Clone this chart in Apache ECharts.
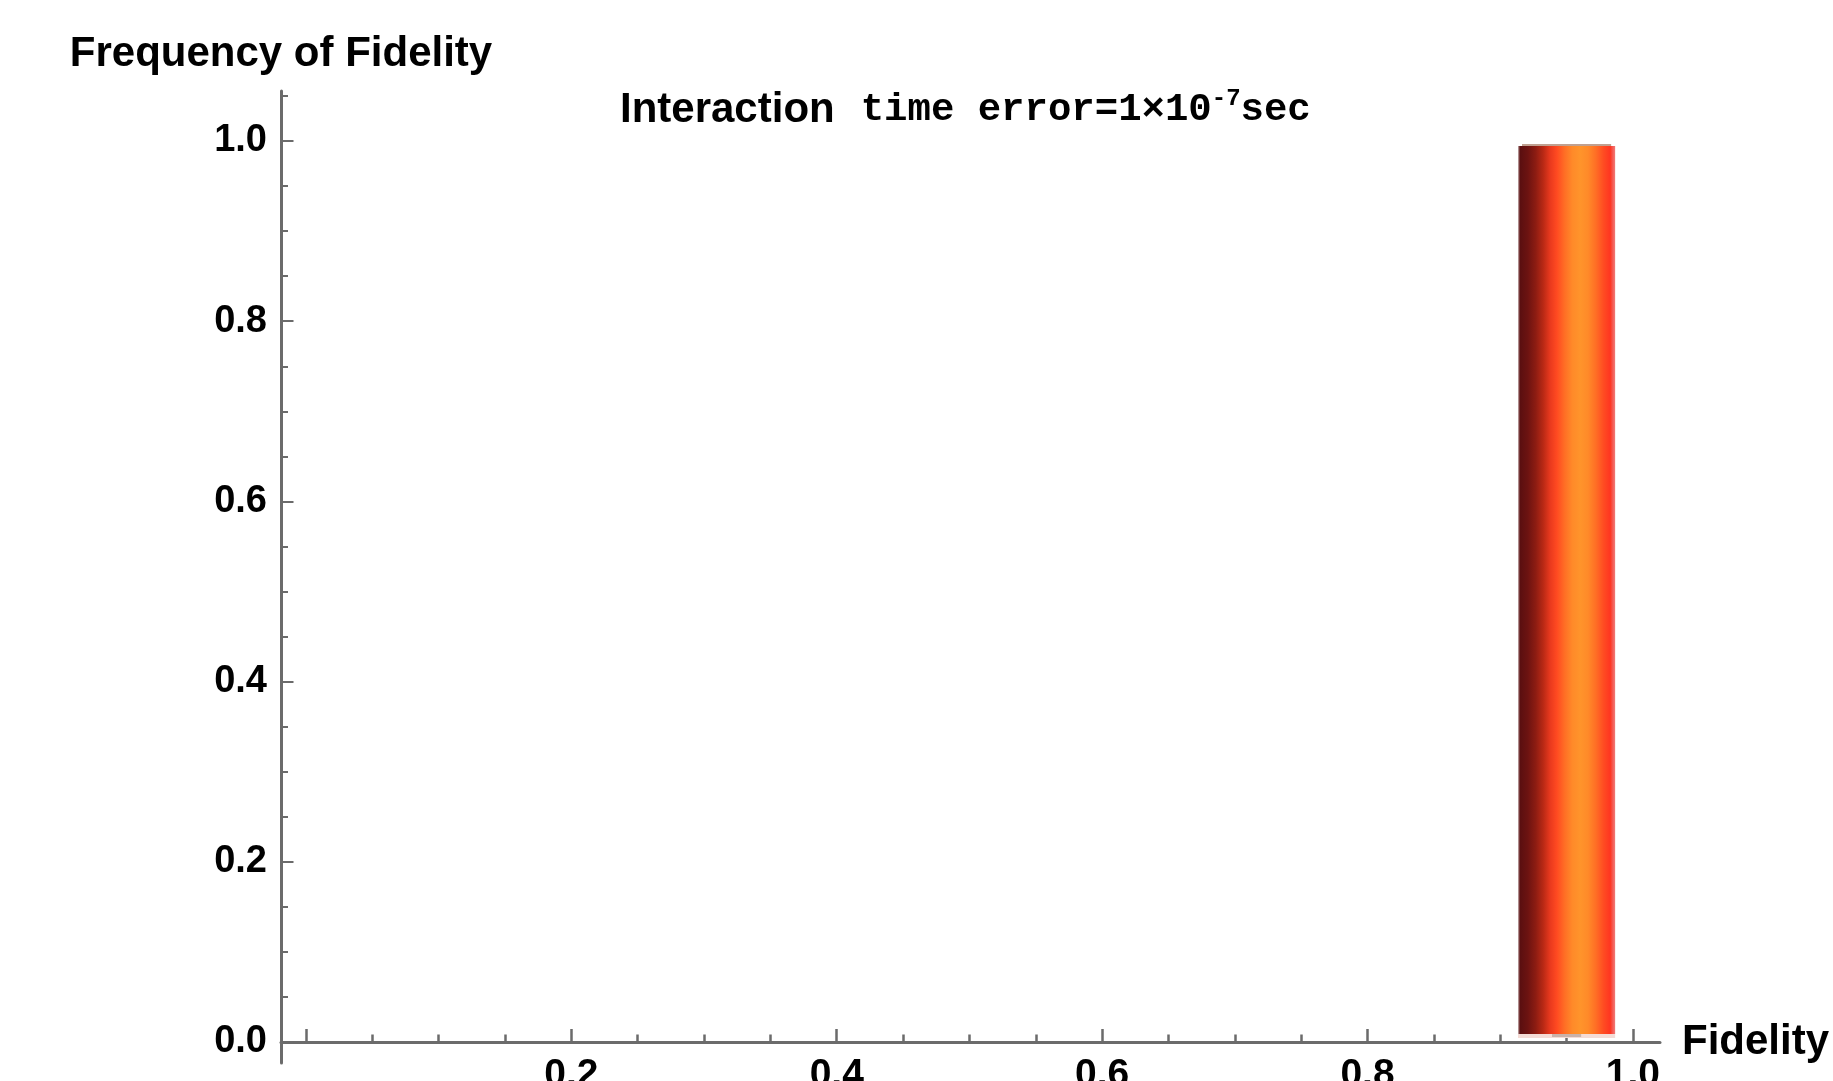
<!DOCTYPE html>
<html>
<head>
<meta charset="utf-8">
<style>
  html, body { margin: 0; padding: 0; background: #ffffff; }
  #chart { width: 1833px; height: 1081px; }
</style>
<script src="https://cdn.jsdelivr.net/npm/echarts@6/dist/echarts.min.js"></script>
</head>
<body>
<div id="chart"></div>
<script>
// ---- data ----
const binStarts = [0.9];
const binEnds = [1.0];
const frequencies = [1.0];

// ---- axis ticks / labels ----
const xMajorTicks = [0, 0.2, 0.4, 0.6, 0.8, 1.0];
const xLabelValues = [0.2, 0.4, 0.6, 0.8, 1.0];
const xMinorTicks = [0.05, 0.1, 0.15, 0.25, 0.3, 0.35, 0.45, 0.5, 0.55, 0.65, 0.7, 0.75, 0.85, 0.9, 0.95];
const yMajorTicks = [0, 0.2, 0.4, 0.6, 0.8, 1.0];
const yLabelValues = [0, 0.2, 0.4, 0.6, 0.8, 1.0];
const yMinorTicks = [0.05, 0.1, 0.15, 0.25, 0.3, 0.35, 0.45, 0.5, 0.55, 0.65, 0.7, 0.75, 0.85, 0.9, 0.95, 1.05];

const xRange = [-0.0188, 1.0204];
const yRange = [-0.0233, 1.0555];

const chartTitle = 'Interaction';
const titleMono = 'time error=1×10';
const titleSup = '-7';
const titleUnit = 'sec';
const xName = 'Fidelity';
const yName = 'Frequency of Fidelity';

const AXIS_COLOR = '#6b6b6b';
const SANS = 'Liberation Sans, Arial, sans-serif';

const chart = echarts.init(document.getElementById('chart'), null, { renderer: 'canvas' });

const gridBox = { left: 281, right: 173, top: 91, bottom: 18, outerBoundsMode: 'none', containLabel: false };

const barGradient = new echarts.graphic.LinearGradient(0, 0, 1, 0, [
  { offset: 0.00, color: '#cbb6b6' },
  { offset: 0.02, color: '#5a0f10' },
  { offset: 0.10, color: '#6c1311' },
  { offset: 0.18, color: '#8c1c12' },
  { offset: 0.26, color: '#b92915' },
  { offset: 0.33, color: '#e8391e' },
  { offset: 0.40, color: '#ff4a21' },
  { offset: 0.48, color: '#ff6e25' },
  { offset: 0.56, color: '#ff8a29' },
  { offset: 0.64, color: '#ff942b' },
  { offset: 0.72, color: '#ff8a29' },
  { offset: 0.80, color: '#ff6f25' },
  { offset: 0.88, color: '#ff4c22' },
  { offset: 0.95, color: '#ff3521' },
  { offset: 0.975, color: '#f45a52' },
  { offset: 1.00, color: '#f07a78' }
]);

function renderBar(params, api) {
  const x0 = api.value(0), x1 = api.value(1), f = api.value(2);
  const pTL = api.coord([x0, f]);
  const pBR = api.coord([x1, 0]);
  const w = pBR[0] - pTL[0];
  const inset = w * 0.134;
  const left = pTL[0] + inset;
  const right = pBR[0] - inset;
  const top = pTL[1] + 5;
  const bottom = pBR[1] - 8;
  const bw = right - left;
  return {
    type: 'group',
    children: [
      { type: 'rect', shape: { x: left, y: bottom, width: bw, height: 4 }, style: { fill: '#f4dcd6' } },
      { type: 'rect', shape: { x: left + bw * 0.35, y: bottom, width: bw * 0.3, height: 3 }, style: { fill: '#c9b2aa' } },
      { type: 'rect', shape: { x: left, y: top, width: bw, height: bottom - top }, style: { fill: barGradient } },
      { type: 'rect', shape: { x: left + 4, y: top - 2, width: bw - 8, height: 2 }, style: { fill: '#c0a090' } }
    ]
  };
}

const barData = binStarts.map((s, i) => [s, binEnds[i], frequencies[i]]);

const option = {
  backgroundColor: '#ffffff',
  animation: false,
  title: {
    text: '{a|' + chartTitle + '}{s| }{b|' + titleMono + '}{c|' + titleSup + '}{b|' + titleUnit + '}',
    left: 620,
    top: 87,
    padding: 0,
    textStyle: {
      rich: {
        a: { fontFamily: SANS, fontWeight: 'bold', fontSize: 42, color: '#000', lineHeight: 46 },
        s: { fontFamily: SANS, fontSize: 42, width: 26, lineHeight: 46 },
        b: { fontFamily: 'Liberation Mono, Courier New, monospace', fontWeight: 'bold', fontSize: 39, color: '#000', lineHeight: 46 },
        c: { fontFamily: 'Liberation Mono, Courier New, monospace', fontWeight: 'bold', fontSize: 24, color: '#000', lineHeight: 24, verticalAlign: 'top' }
      }
    }
  },
  grid: [ Object.assign({}, gridBox), Object.assign({}, gridBox) ],
  xAxis: [
    {
      type: 'value', gridIndex: 0, min: xRange[0], max: xRange[1], position: 'bottom',
      name: xName, nameLocation: 'end', nameGap: 22,
      nameTextStyle: { fontFamily: SANS, fontWeight: 'bold', fontSize: 42, color: '#000', verticalAlign: 'middle', align: 'left' },
      axisLine: { show: true, onZero: true, lineStyle: { color: AXIS_COLOR, width: 3 } },
      axisTick: { show: true, inside: true, length: 13, customValues: xMajorTicks, lineStyle: { color: AXIS_COLOR, width: 2.5 } },
      axisLabel: { show: true, margin: -7, customValues: xLabelValues, fontFamily: SANS, fontWeight: 'bold', fontSize: 39, color: '#000', formatter: v => v.toFixed(1) },
      splitLine: { show: false }, minorTick: { show: false }
    },
    {
      type: 'value', gridIndex: 1, min: xRange[0], max: xRange[1], position: 'bottom',
      axisLine: { show: false, onZero: true },
      axisTick: { show: true, inside: true, length: 7.5, customValues: xMinorTicks, lineStyle: { color: AXIS_COLOR, width: 2.5 } },
      axisLabel: { show: false },
      splitLine: { show: false }
    }
  ],
  yAxis: [
    {
      type: 'value', gridIndex: 0, min: yRange[0], max: yRange[1], position: 'left',
      name: yName, nameLocation: 'end', nameGap: 16,
      nameTextStyle: { fontFamily: SANS, fontWeight: 'bold', fontSize: 42, color: '#000' },
      axisLine: { show: true, onZero: false, lineStyle: { color: AXIS_COLOR, width: 3 } },
      axisTick: { show: true, inside: true, length: 12.5, customValues: yMajorTicks, lineStyle: { color: AXIS_COLOR, width: 2 } },
      axisLabel: { show: true, margin: 14, customValues: yLabelValues, fontFamily: SANS, fontWeight: 'bold', fontSize: 38, color: '#000', formatter: v => v.toFixed(1) },
      splitLine: { show: false }, minorTick: { show: false }
    },
    {
      type: 'value', gridIndex: 1, min: yRange[0], max: yRange[1], position: 'left',
      axisLine: { show: false, onZero: false },
      axisTick: { show: true, inside: true, length: 7, customValues: yMinorTicks, lineStyle: { color: AXIS_COLOR, width: 2 } },
      axisLabel: { show: false },
      splitLine: { show: false }
    }
  ],
  series: [
    {
      type: 'custom',
      xAxisIndex: 0,
      yAxisIndex: 0,
      renderItem: renderBar,
      encode: { x: [0, 1], y: 2 },
      data: barData,
      clip: false
    }
  ]
};

chart.setOption(option);
</script>
</body>
</html>
